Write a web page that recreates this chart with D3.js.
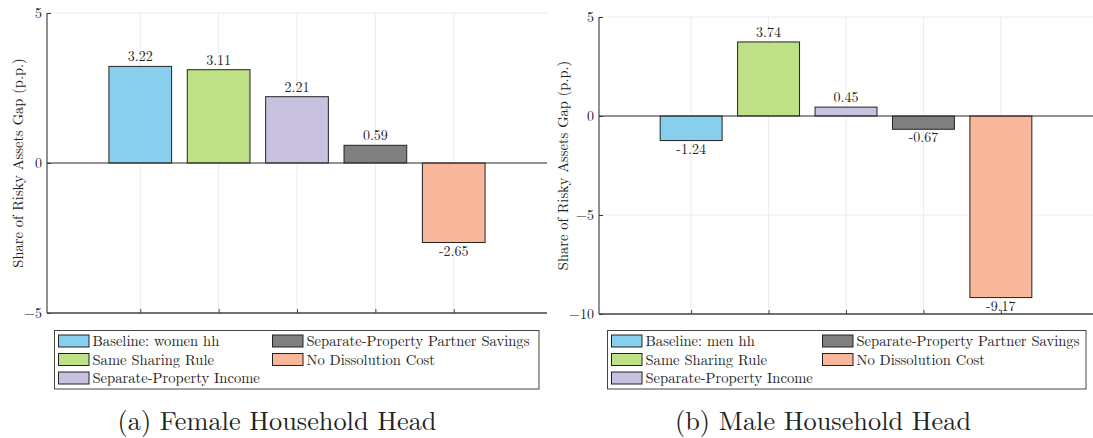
<!DOCTYPE html>
<html>
<head>
<meta charset="utf-8">
<script src="https://cdn.jsdelivr.net/npm/d3@7"></script>
<style>
  html, body { margin: 0; padding: 0; background: #fff; }
  svg { display: block; }
  text { font-family: "Latin Modern Roman", "Liberation Serif", serif; fill: #222; }
</style>
</head>
<body>
<svg id="chart" width="1093" height="438"></svg>
<script>
// ---- data ----
const categories = ["Baseline", "Same Sharing Rule", "Separate-Property Income", "Separate-Property Partner Savings", "No Dissolution Cost"];
const femaleValues = [3.22, 3.11, 2.21, 0.59, -2.65];
const maleValues = [-1.24, 3.74, 0.45, -0.67, -9.17];
const femaleLegend = ["Baseline: women hh", "Same Sharing Rule", "Separate-Property Income", "Separate-Property Partner Savings", "No Dissolution Cost"];
const maleLegend = ["Baseline: men hh", "Same Sharing Rule", "Separate-Property Income", "Separate-Property Partner Savings", "No Dissolution Cost"];
const femaleTicks = [-5, 0, 5];
const maleTicks = [-10, -5, 0, 5];
const colors = ["#88cfee", "#bee086", "#c9c1e0", "#808080", "#f8b69a"];
const yLabel = "Share of Risky Assets Gap (p.p.)";
const captions = ["(a) Female Household Head", "(b) Male Household Head"];

const svg = d3.select("#chart");

function panel(opts) {
  const g = svg.append("g");
  const idx = d3.range(1, categories.length + 1);
  const x = d3.scaleLinear().domain([1 - 1.19, categories.length + 1.19]).range([opts.x0, opts.x1]);
  const y = d3.scaleLinear().domain(opts.yDomain).range([opts.y1, opts.y0]);
  const bw = (x(2) - x(1)) * 0.8;

  // grid
  g.append("g").selectAll("line").data(idx).join("line")
    .attr("x1", d => x(d)).attr("x2", d => x(d))
    .attr("y1", opts.y0).attr("y2", opts.y1)
    .attr("stroke", "#ececec").attr("stroke-width", 1);
  g.append("g").selectAll("line").data(opts.ticks).join("line")
    .attr("x1", opts.x0).attr("x2", opts.x1)
    .attr("y1", d => y(d)).attr("y2", d => y(d))
    .attr("stroke", "#ececec").attr("stroke-width", 1);

  // bars
  g.append("g").selectAll("rect").data(opts.values).join("rect")
    .attr("x", (d, i) => x(i + 1) - bw / 2)
    .attr("width", bw)
    .attr("y", d => y(Math.max(0, d)))
    .attr("height", d => Math.abs(y(d) - y(0)))
    .attr("fill", (d, i) => colors[i])
    .attr("stroke", "#222").attr("stroke-width", 1);

  // zero line
  g.append("line")
    .attr("x1", opts.x0).attr("x2", opts.x1)
    .attr("y1", y(0)).attr("y2", y(0))
    .attr("stroke", "#333").attr("stroke-width", 1.2);

  // value labels
  g.append("g").selectAll("text").data(opts.values).join("text")
    .attr("x", (d, i) => x(i + 1))
    .attr("y", d => d >= 0 ? y(d) - 5 : y(d) + 13)
    .attr("text-anchor", "middle")
    .attr("font-size", 14)
    .text(d => d.toFixed(2));

  // axes
  const ya = d3.axisLeft(y).tickValues(opts.ticks).tickSize(-4).tickPadding(5).tickFormat(d3.format("d"));
  const yg = g.append("g").attr("transform", `translate(${opts.x0},0)`).call(ya);
  yg.select(".domain").attr("stroke", "#222").attr("d", `M0,${opts.y0}V${opts.y1}`);
  yg.selectAll(".tick line").attr("stroke", "#333");
  yg.selectAll(".tick text").attr("font-size", 14).attr("font-family", "Latin Modern Roman").attr("fill", "#222");

  const xa = d3.axisBottom(x).tickValues(idx).tickSize(-4).tickFormat("");
  const xg = g.append("g").attr("transform", `translate(0,${opts.y1})`).call(xa);
  xg.select(".domain").attr("stroke", "#444").attr("stroke-width", 1.3).attr("d", `M${opts.x0},0H${opts.x1}`);
  xg.selectAll(".tick line").attr("stroke", "#444");

  // y label
  g.append("text")
    .attr("transform", `translate(${opts.labelX},${(opts.y0 + opts.y1) / 2}) rotate(-90)`)
    .attr("text-anchor", "middle")
    .attr("dominant-baseline", "central")
    .attr("font-size", 14.5)
    .text(yLabel);

  // legend
  const lg = g.append("g").attr("transform", `translate(${opts.legX},${opts.legY})`);
  lg.append("rect").attr("width", opts.legW).attr("height", 58.5)
    .attr("fill", "#fff").attr("stroke", "#444").attr("stroke-width", 1);
  const items = opts.legend.map((t, i) => ({ t, i, col: i < 3 ? 0 : 1, row: i < 3 ? i : i - 3 }));
  const it = lg.selectAll("g.item").data(items).join("g")
    .attr("transform", d => `translate(${d.col === 0 ? 4 : opts.col2},${10.5 + d.row * 18.5})`);
  it.append("rect").attr("x", 0).attr("y", -6).attr("width", 30.5).attr("height", 12)
    .attr("fill", d => colors[d.i]).attr("stroke", "#222").attr("stroke-width", 1);
  it.append("text").attr("x", 34).attr("y", 5).attr("font-size", 14.6).text(d => d.t);

  // caption
  svg.append("text").attr("x", opts.capX).attr("y", 429.5)
    .attr("text-anchor", "middle").attr("font-size", 26.3).text(opts.caption);
}

panel({ x0: 47, x1: 547, y0: 13, y1: 313, yDomain: [-5, 5], ticks: femaleTicks, values: femaleValues,
  legend: femaleLegend, labelX: 17, legX: 54.5, legY: 330.5, legW: 484.5, col2: 218, capX: 277, caption: captions[0] });
panel({ x0: 599, x1: 1093, y0: 17, y1: 314, yDomain: [-10, 5], ticks: maleTicks, values: maleValues,
  legend: maleLegend, labelX: 562, legX: 607.5, legY: 330.5, legW: 478.5, col2: 215, capX: 823, caption: captions[1] });
</script>
</body>
</html>
